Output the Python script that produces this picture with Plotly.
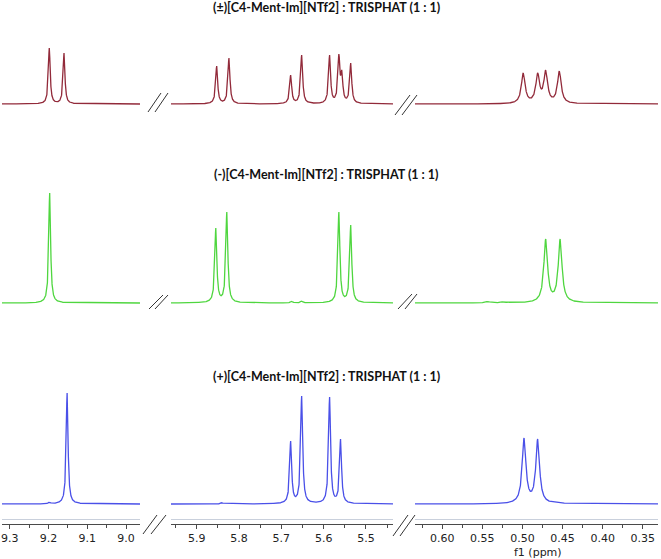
import numpy as np
import plotly.graph_objects as go

W, H = 661, 559

# ---- data: peak positions (ppm) and apparent heights (a.u.) ----
titles = ["(\u00b1)[C4-Ment-Im][NTf2] : TRISPHAT (1 : 1)",
          "(-)[C4-Ment-Im][NTf2] : TRISPHAT (1 : 1)",
          "(+)[C4-Ment-Im][NTf2] : TRISPHAT (1 : 1)"]

# racemic (red)
red_p1_pos = [9.198, 9.160]
red_p1_h = [56, 51]
red_p2_pos = [5.853, 5.824, 5.678, 5.652, 5.586, 5.564, 5.557, 5.536]
red_p2_h = [38, 46, 29, 49, 49, 50, 34, 41]
red_p3_pos = [0.499, 0.481, 0.471, 0.454]
red_p3_h = [31, 31, 34, 33]

# (-) enantiomer (green)
green_p1_pos = [9.197]
green_p1_h = [110]
green_p2_pos = [5.855, 5.829, 5.675, 5.652, 5.564, 5.536]
green_p2_h = [75, 91, 2, 2, 91, 78]
green_p3_pos = [0.543, 0.524, 0.471, 0.453]
green_p3_h = [1.5, 1.5, 64, 64]

# (+) enantiomer (blue)
blue_p1_pos = [9.197, 9.152]
blue_p1_h = [2, 111]
blue_p2_pos = [5.841, 5.678, 5.652, 5.586, 5.560]
blue_p2_h = [1.5, 63, 108, 107, 65]
blue_p3_pos = [0.498, 0.481, 0.453]
blue_p3_h = [66, 65, 1.5]

x_ranges = [[9.32, 8.964], [5.961, 5.436], [0.634, 0.331]]
tick_vals = [[9.3, 9.2, 9.1, 9.0],
             [5.9, 5.8, 5.7, 5.6, 5.5],
             [0.60, 0.55, 0.50, 0.45, 0.40, 0.35]]
tick_text = [["9.3", "9.2", "9.1", "9.0"],
             ["5.9", "5.8", "5.7", "5.6", "5.5"],
             ["0.60", "0.55", "0.50", "0.45", "0.40", "0.35"]]
minor_dt = [0.05, 0.05, 0.025]

colors = ["#922a3a", "#4fd63f", "#4a50e8"]
hwhm = 0.0028

rows = [
    [(red_p1_pos, red_p1_h), (red_p2_pos, red_p2_h), (red_p3_pos, red_p3_h)],
    [(green_p1_pos, green_p1_h), (green_p2_pos, green_p2_h), (green_p3_pos, green_p3_h)],
    [(blue_p1_pos, blue_p1_h), (blue_p2_pos, blue_p2_h), (blue_p3_pos, blue_p3_h)],
]

# ---- layout geometry (pixels) ----
col_px = [(2, 140), (171, 393), (415, 658)]
row_px = [(0, 104, 108), (180, 303, 307), (380, 504, 508)]  # top, baseline, bottom
axis_y_px = 524


def lor(x, x0, w):
    return 1.0 / (1.0 + ((x - x0) / w) ** 2)


def spectrum(xr, pos, h):
    pos = np.array(pos, float)
    h = np.array(h, float)
    # amplitudes chosen so that the curve reaches the apparent heights at the peak positions
    M = np.array([[lor(pi, pj, hwhm) for pj in pos] for pi in pos])
    amp = np.linalg.solve(M, h)
    x = np.linspace(min(xr), max(xr), 2400)
    y = np.zeros_like(x)
    for p, a in zip(pos, amp):
        y += a * lor(x, p, hwhm)
    return x, y


fig = go.Figure()
layout = dict(width=W, height=H, margin=dict(l=0, r=0, t=0, b=0),
              paper_bgcolor="white", plot_bgcolor="white", showlegend=False)


def px2paper_x(px):
    return px / W


def px2paper_y(py):
    return 1 - py / H


k = 0
for r in range(3):
    top, base, bot = row_px[r]
    for c in range(3):
        k += 1
        xa = "xaxis" if k == 1 else f"xaxis{k}"
        ya = "yaxis" if k == 1 else f"yaxis{k}"
        xref = "x" if k == 1 else f"x{k}"
        yref = "y" if k == 1 else f"y{k}"
        pos, h = rows[r][c]
        x, y = spectrum(x_ranges[c], pos, h)
        fig.add_trace(go.Scatter(x=x, y=y, mode="lines", xaxis=xref, yaxis=yref,
                                 line=dict(color=colors[r], width=1.3),
                                 hoverinfo="skip"))
        bottom_row = (r == 2)
        xdict = dict(domain=[px2paper_x(col_px[c][0]), px2paper_x(col_px[c][1])],
                     range=x_ranges[c], anchor="free" if bottom_row else yref,
                     showgrid=False, zeroline=False)
        if bottom_row:
            xdict.update(position=px2paper_y(axis_y_px), visible=True,
                         showline=True, linecolor="#4a4a4a", linewidth=1,
                         ticks="outside", ticklen=4, tickwidth=1, tickcolor="#4a4a4a",
                         tickvals=tick_vals[c], ticktext=tick_text[c],
                         tickfont=dict(family="DejaVu Sans", size=11, color="#222"),
                         minor=dict(ticks="outside", ticklen=3, dtick=minor_dt[c],
                                    tick0=0, tickcolor="#4a4a4a", showgrid=False))
        else:
            xdict.update(visible=False)
        layout[xa] = xdict
        layout[ya] = dict(domain=[px2paper_y(bot), px2paper_y(top)],
                          range=[-(bot - base), base - top], anchor=xref,
                          visible=False, showgrid=False, zeroline=False)

shapes = []
# faint line above the bottom axis
for c in range(3):
    shapes.append(dict(type="line", xref="paper", yref="paper",
                       x0=px2paper_x(col_px[c][0]), x1=px2paper_x(col_px[c][1]),
                       y0=px2paper_y(519.5), y1=px2paper_y(519.5),
                       line=dict(color="#c9d0dc", width=1)))

breaks = [
    [((148, 112), (161, 93)), ((155, 112), (168, 93)),
     ((395, 115), (410, 95)), ((402, 115), (417, 95))],
    [((149, 309), (163, 295)), ((155, 309), (168, 295)),
     ((398, 309), (412, 294)), ((405, 309), (417, 294))],
    [((143, 534), (157, 515)), ((151, 534), (166, 515)),
     ((393, 536), (408, 515)), ((400, 536), (415, 515))],
]
for grp in breaks:
    for (a, b) in grp:
        shapes.append(dict(type="line", xref="paper", yref="paper",
                           x0=px2paper_x(a[0]), y0=px2paper_y(a[1]),
                           x1=px2paper_x(b[0]), y1=px2paper_y(b[1]),
                           line=dict(color="#333333", width=1)))
layout["shapes"] = shapes

title_y = [8, 175, 376]
annotations = []
for t, ty in zip(titles, title_y):
    annotations.append(dict(text=f"<b>{t}</b>", x=px2paper_x(326), y=px2paper_y(ty),
                            xref="paper", yref="paper", showarrow=False,
                            xanchor="center", yanchor="middle",
                            font=dict(family="Lato", size=12.5, color="#111")))
annotations.append(dict(text="f1 (ppm)", x=px2paper_x(538), y=px2paper_y(552),
                        xref="paper", yref="paper", showarrow=False,
                        xanchor="center", yanchor="middle",
                        font=dict(family="DejaVu Sans", size=11, color="#222")))
layout["annotations"] = annotations

fig.update_layout(**layout)
fig.write_html("out.html", config={"displayModeBar": False},
               post_script="document.body.style.margin='0';")
